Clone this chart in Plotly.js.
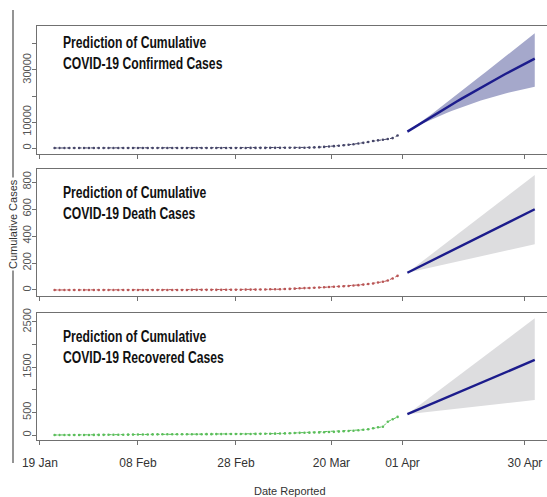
<!DOCTYPE html>
<html>
<head>
<meta charset="utf-8">
<script src="https://cdn.plot.ly/plotly-3.0.1.min.js"></script>
<style>
  html, body { margin: 0; padding: 0; background: #fff; }
  #chart { width: 547px; height: 497px; }
</style>
</head>
<body>
<div id="chart"></div>
<script>
// day index, 0 = 19 Jan
const obsDays = [3,4,5,6,7,8,9,10,11,12, 13,14,15,16,17,18,19,20,21,22, 23,24,25,26,27,28,29,30,31,32,
                 33,34,35,36,37,38,39,40,41,42, 43,44,45,46,47,48,49,50,51,52, 53,54,55,56,57,58,59,60,61,62,
                 63,64,65,66,67,68,69,70,71,72,73]
const confirmedObs = [1,1,1,1,1,2,2,3,3,4, 4,5,5,6,7,8,8,9,10,10, 11,12,13,13,14,15,15,16,17,18,
                      18,19,20,21,22,23,24,25,26,28, 30,35,40,45,50,55,62,70,80,90, 100,115,160,230,320,430,560,710,880,1050,
                      1250,1470,1720,1980,2300,2700,2950,3200,3460,3800,4800]
const deathsObs = [0,0,0,0,0,0,0,0,0,0, 0,0,0,0,0,0,0,0,0,0, 0,0,0,0,0,0,0,0,1,1,
                   1,1,1,1,1,2,2,2,2,3, 3,3,4,4,5,5,6,7,8,10, 13,14,15,17,18,20,22,24,26,28,
                   30,33,36,40,44,48,55,61,70,85,105]
const recoveredObs = [0,0,0,0,0,1,1,1,2,2, 3,4,5,6,7,8,9,10,11,12, 13,14,15,15,16,16,17,17,18,18,
                      18,19,19,20,20,21,21,22,22,23, 23,24,25,26,28,30,32,35,40,45, 48,50,52,55,58,62,66,70,75,82,
                      88,95,105,115,126,150,170,184,294,347,400]

const fcDays = [75,76,77,78,79,80,81,82,83,84,85,86,87,88,89,90,91,92,93,94,95,96,97,98,99,100,101]
const confirmedFc = [6300,7480,8650,9820,10980,12130,13280,14420,15550,16670,17790,18900,20000,21090,
                     22170,23240,24300,25350,26390,27420,28440,29450,30450,31440,32420,33390,34350]
const confirmedHi = [6300,7580,8920,10300,11690,13100,14530,15970,17420,18880,20350,21820,23300,24780,
                     26270,27750,29240,30730,32220,33710,35190,36680,38170,39650,41140,42620,44100]
const confirmedLo = [6300,7370,8350,9300,10200,11060,11900,12700,13480,14230,14960,15670,16350,17010,
                     17640,18250,18840,19410,19950,20480,20980,21460,21930,22370,22790,23200,23580]
const deathsFc = [128,146,164,182,200,218,236,254,273,291,309,327,345,363,381,399,417,435,453,472,490,508,526,544,562,580,598]
const deathsHi = [128,156,184,211,239,267,295,322,351,379,407,434,462,490,518,546,573,601,629,658,685,713,741,769,796,824,852]
const deathsLo = [128,136,144,152,160,168,176,184,193,201,209,217,225,233,242,250,258,266,274,283,291,299,307,315,323,331,339]
const recoveredFc = [460,506,552,598,645,691,737,783,829,875,922,968,1014,1060,1106,1152,1198,1245,1291,1337,1383,1429,1475,1522,1568,1614,1660]
const recoveredHi = [460,541,623,704,787,868,949,1031,1112,1194,1276,1357,1439,1520,1602,1683,1764,1847,1928,2010,2091,2172,2254,2336,2418,2499,2580]
const recoveredLo = [460,472,484,496,509,520,532,544,556,568,581,593,605,617,629,640,652,665,677,689,701,713,725,738,750,761,773]

const tickDays = [0, 20, 40, 59.5, 74, 99]
const tickLabels = ['19 Jan', '08 Feb', '28 Feb', '20 Mar', '01 Apr', '30 Apr']
const panelTitles = [
  'Prediction of Cumulative<br>COVID-19 Confirmed Cases',
  'Prediction of Cumulative<br>COVID-19 Death Cases',
  'Prediction of Cumulative<br>COVID-19 Recovered Cases'
]

const ARIAL = "'Liberation Sans', Arial, sans-serif"
const FRAME = '#707070'
const LINE_BLUE = 'rgb(28,28,140)'

function panelTraces(n, obs, fc, lo, hi, obsColor, bandColor) {
    var xa = n == 1 ? 'x' : 'x' + n
    var ya = n == 1 ? 'y' : 'y' + n
    return [
        {   // prediction interval
            x: fcDays.concat(fcDays.slice().reverse()),
            y: hi.concat(lo.slice().reverse()),
            xaxis: xa, yaxis: ya,
            type: 'scatter', mode: 'lines',
            fill: 'toself', fillcolor: bandColor,
            line: {width: 0}, hoverinfo: 'skip',
        },
        {   // reported
            x: obsDays, y: obs,
            xaxis: xa, yaxis: ya,
            type: 'scatter', mode: 'lines+markers',
            line: {color: obsColor, width: 1, dash: 'dot'},
            marker: {color: obsColor, size: 2.6},
        },
        {   // forecast
            x: fcDays, y: fc,
            xaxis: xa, yaxis: ya,
            type: 'scatter', mode: 'lines',
            line: {color: LINE_BLUE, width: 2.4},
        },
    ]
}

var data = []
    .concat(panelTraces(1, confirmedObs, confirmedFc, confirmedLo, confirmedHi, 'rgb(70,70,105)', 'rgb(165,168,203)'))
    .concat(panelTraces(2, deathsObs, deathsFc, deathsLo, deathsHi, 'rgb(185,85,85)', 'rgb(221,221,223)'))
    .concat(panelTraces(3, recoveredObs, recoveredFc, recoveredLo, recoveredHi, 'rgb(90,190,90)', 'rgb(221,221,223)'))

// pixel helpers for domains (figure is 547 x 497)
const W = 547, H = 497
function px(x) { return x / W }
function py(y) { return 1 - y / H }

function xAxis(anchor, labels) {
    return {
        domain: [px(37), 1], range: [-0.6, 103.5], anchor: anchor,
        tickvals: tickDays, ticktext: tickLabels, showticklabels: labels,
        ticks: 'outside', ticklen: 4, tickcolor: FRAME, tickwidth: 1,
        showline: true, mirror: true, linecolor: FRAME, linewidth: 1.3,
        showgrid: false, zeroline: false, fixedrange: true,
        tickfont: {family: ARIAL, size: 12, color: '#333'},
        ticklabelstandoff: 7,
    }
}

function yAxis(anchor, top, bottom, range, vals, text) {
    return {
        domain: [py(bottom), py(top)], range: range, anchor: anchor,
        tickvals: vals, ticktext: text, tickangle: -90,
        ticks: 'outside', ticklen: 4, tickcolor: FRAME, tickwidth: 1,
        showline: true, linecolor: FRAME, linewidth: 1.3,
        showgrid: false, zeroline: false, fixedrange: true,
        tickfont: {family: ARIAL, size: 11, color: '#555'},
        ticklabelstandoff: -4,
    }
}

function title(text, yTop) {
    return {
        text: text, xref: 'paper', yref: 'paper',
        x: px(61), y: py(yTop), xanchor: 'left', yanchor: 'top', align: 'left',
        showarrow: false,
        font: {family: ARIAL, size: 16, color: '#111', weight: 'bold'},
    }
}

var layout = {
    width: W, height: H,
    margin: {l: 0, r: 0, t: 0, b: 0},
    showlegend: false,
    plot_bgcolor: '#fff', paper_bgcolor: '#fff',
    xaxis: xAxis('y', false),
    xaxis2: xAxis('y2', false),
    xaxis3: xAxis('y3', true),
    yaxis: yAxis('x', 26, 154, [-2308, 46920], [0, 10000, 20000, 30000, 40000], ['0', '10000', '', '30000', '']),
    yaxis2: yAxis('x2', 169, 296, [-44.5, 896.6], [0, 200, 400, 600, 800], ['0', '200', '400', '600', '800']),
    yaxis3: yAxis('x3', 313, 440, [-110.6, 2698.6], [0, 500, 1000, 1500, 2000, 2500], ['0', '500', '', '1500', '', '2500']),
    annotations: [
        title(panelTitles[0], 32),
        title(panelTitles[1], 182),
        title(panelTitles[2], 326),
        {
            text: 'Cumulative Cases', xref: 'paper', yref: 'paper',
            x: px(13), y: py(224), xanchor: 'center', yanchor: 'middle',
            textangle: -90, showarrow: false, bgcolor: '#fff',
            font: {family: ARIAL, size: 11, color: '#333'},
        },
        {
            text: 'Date Reported', xref: 'paper', yref: 'paper',
            x: px(290), y: py(491), yanchor: 'middle', showarrow: false,
            font: {family: ARIAL, size: 11, color: '#333'},
        },
    ],
    shapes: [
        {type: 'line', xref: 'paper', yref: 'paper', x0: px(13), x1: px(13), y0: py(10), y1: py(463),
         line: {color: FRAME, width: 1.5}},
        {type: 'line', xref: 'paper', yref: 'paper', x0: px(8), x1: px(17), y0: py(266), y1: py(266),
         line: {color: FRAME, width: 1.2}},
    ],
}

Plotly.newPlot('chart', data, layout, {displayModeBar: false, staticPlot: true}).then(function (gd) {
    // no narrow font installed: squeeze the panel titles horizontally instead
    for (var i = 0; i < 3; i++) {
        var t = gd.querySelector('.annotation[data-index="' + i + '"] text.annotation-text')
        if (!t) continue
        t.style.transformBox = 'fill-box'
        t.style.transformOrigin = '0 50%'
        t.style.transform = 'scaleX(0.76)'
    }
})
</script>
</body>
</html>
